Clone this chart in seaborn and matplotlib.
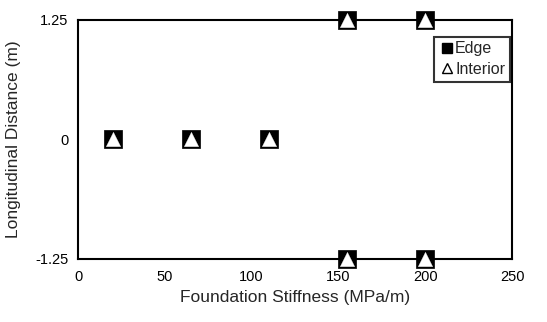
import pandas as pd
import numpy as np
import matplotlib.pyplot as plt
import seaborn as sns
from matplotlib.lines import Line2D

# values
stiffness = [20, 65, 110, 155, 155, 200, 200]
edge_distance = [0, 0, 0, 1.25, -1.25, 1.25, -1.25]
interior_distance = [0, 0, 0, 1.25, -1.25, 1.25, -1.25]
x_ticks = [0, 50, 100, 150, 200, 250]
y_ticks = [-1.25, 0, 1.25]
y_tick_labels = ["-1.25", "0", "1.25"]

df = pd.DataFrame({
    'stiffness': stiffness * 2,
    'distance': edge_distance + interior_distance,
    'location': ['Edge'] * len(stiffness) + ['Interior'] * len(stiffness),
})

sns.set_style('white')
plt.rcParams['font.family'] = ['Liberation Sans', 'DejaVu Sans']

fig = plt.figure(figsize=(5.47, 3.22), dpi=100)
ax = fig.add_axes([0.1426, 0.196, 0.7935, 0.742])

sns.scatterplot(data=df[df.location == 'Edge'], x='stiffness', y='distance',
                marker='s', s=165, color='black', edgecolor='black', linewidth=0.5,
                clip_on=False, zorder=3, legend=False, ax=ax)
sns.scatterplot(data=df[df.location == 'Interior'], x='stiffness', y='distance',
                marker='^', s=105, color='white', edgecolor='white', linewidth=0.3,
                clip_on=False, zorder=4, legend=False, ax=ax)

ax.set_xlim(0, 250)
ax.set_ylim(-1.25, 1.25)
ax.set_xticks(x_ticks)
ax.set_yticks(y_ticks)
ax.set_yticklabels(y_tick_labels)
ax.tick_params(axis='both', labelsize=10.5, colors='black', length=3, width=1.2, direction='out')
ax.tick_params(axis='x', length=0, pad=8)
ax.tick_params(axis='y', pad=4)

for sp in ax.spines.values():
    sp.set_color('black')
    sp.set_linewidth(1.5)

ax.set_xlabel('Foundation Stiffness (MPa/m)', fontsize=12.5, labelpad=4)
ax.set_ylabel('Longitudinal Distance (m)', fontsize=12.5, labelpad=10)

handles = [
    Line2D([], [], marker='s', linestyle='', color='black', markersize=7),
    Line2D([], [], marker='^', linestyle='', markerfacecolor='white',
           markeredgecolor='black', markeredgewidth=1.0, markersize=7),
]
leg = ax.legend(handles, ['Edge', 'Interior'], loc='upper right',
                bbox_to_anchor=(0.995, 0.93), frameon=True, fancybox=False,
                fontsize=11.5, handletextpad=0.0, borderpad=0.3, labelspacing=0.35,
                handlelength=1.0, borderaxespad=0)
leg.get_frame().set_edgecolor('black')
leg.get_frame().set_linewidth(1.5)

fig.savefig('out.png', dpi=100)
